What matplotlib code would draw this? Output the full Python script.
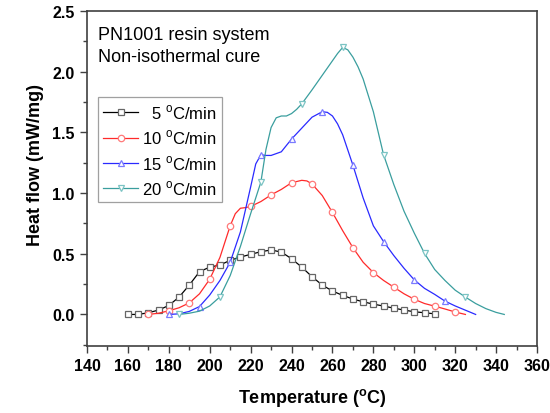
import numpy as np
import matplotlib
matplotlib.use("Agg")
import matplotlib.pyplot as plt
from matplotlib.ticker import MultipleLocator, FormatStrFormatter

plt.rcParams['font.family'] = ['Liberation Sans', 'DejaVu Sans']
plt.rcParams['mathtext.fontset'] = 'custom'
plt.rcParams['mathtext.rm'] = 'Liberation Sans'
plt.rcParams['mathtext.bf'] = 'Liberation Sans:bold'

# ---- data ----
labels = ['  5 $^{\\mathrm{o}}$C/min', '10 $^{\\mathrm{o}}$C/min',
          '15 $^{\\mathrm{o}}$C/min', '20 $^{\\mathrm{o}}$C/min']

t5 = [160, 165, 170, 175, 180, 185, 190, 195, 200, 205, 210, 215, 220, 225, 230,
      235, 240, 245, 250, 255, 260, 265, 270, 275, 280, 285, 290, 295, 300, 305, 310]
v5 = [0.0, 0.0, 0.014, 0.036, 0.074, 0.143, 0.242, 0.352, 0.39, 0.407, 0.446, 0.473,
      0.495, 0.517, 0.531, 0.514, 0.459, 0.39, 0.311, 0.242, 0.193, 0.157, 0.127,
      0.104, 0.085, 0.069, 0.052, 0.036, 0.022, 0.014, 0.005]
m5 = t5

t10 = [170, 175, 180, 185, 190, 195, 200, 205, 210, 212.5, 215, 217.5, 220, 225, 230,
       235, 240, 245, 247.5, 250, 255, 260, 265, 270, 275, 280, 285, 290, 295, 300,
       305, 310, 315, 320, 325]
v10 = [0.0, 0.01, 0.03, 0.055, 0.095, 0.17, 0.29, 0.47, 0.73, 0.83, 0.875, 0.88, 0.89,
       0.93, 0.985, 1.03, 1.085, 1.105, 1.10, 1.075, 0.98, 0.84, 0.69, 0.55, 0.43,
       0.345, 0.28, 0.225, 0.17, 0.125, 0.09, 0.068, 0.045, 0.02, 0.0]
m10 = [170, 180, 190, 200, 210, 220, 230, 240, 250, 260, 270, 280, 290, 300, 310, 320]

t15 = [180, 185, 190, 195, 200, 205, 210, 215, 220, 222.5, 225, 227.5, 230, 235, 240,
       245, 250, 255, 257.5, 260, 262.5, 265, 270, 275, 280, 285, 290, 295, 300, 305,
       310, 315, 320, 325, 330]
v15 = [0.0, 0.005, 0.025, 0.065, 0.16, 0.28, 0.43, 0.68, 1.05, 1.24, 1.315, 1.31,
       1.31, 1.34, 1.445, 1.535, 1.625, 1.67, 1.665, 1.635, 1.57, 1.48, 1.23, 0.96,
       0.73, 0.60, 0.485, 0.38, 0.285, 0.215, 0.165, 0.11, 0.07, 0.035, 0.0]
m15 = [180, 195, 210, 225, 240, 255, 270, 285, 300, 315]

t20 = [185, 190, 195, 200, 205, 210, 215, 220, 225, 227.5, 230, 232.5, 235, 237.5,
       240, 242.5, 245, 250, 255, 260, 262.5, 265, 267.5, 270, 272.5, 275, 280, 285,
       290, 295, 300, 305, 310, 315, 320, 325, 330, 335, 340, 344]
v20 = [0.0, 0.01, 0.027, 0.07, 0.145, 0.32, 0.56, 0.83, 1.09, 1.36, 1.54, 1.62, 1.635,
       1.635, 1.655, 1.69, 1.735, 1.85, 1.97, 2.09, 2.15, 2.20, 2.18, 2.12, 2.04, 1.94,
       1.67, 1.315, 1.07, 0.85, 0.67, 0.503, 0.37, 0.28, 0.20, 0.143, 0.09, 0.048,
       0.017, 0.0]
m20 = [185, 205, 225, 245, 265, 285, 305, 325]

x_ticks = list(range(140, 361, 20))
y_ticks = [0.0, 0.5, 1.0, 1.5, 2.0, 2.5]

series = [
    (t5, v5, m5, 's', '#000000', '#666666', 4.4),
    (t10, v10, m10, 'o', '#ff2a2a', '#ff7a7a', 4.6),
    (t15, v15, m15, '^', '#2a2aff', '#7a7aff', 5.0),
    (t20, v20, m20, 'v', '#3a9e9e', '#7cc4c4', 5.0),
]

fig = plt.figure(figsize=(5.5, 4.14), dpi=100)
ax = fig.add_axes([87 / 550, 1 - 347 / 414, 450 / 550, 335 / 414])

for (t, v, m, mk, lc, mc, ms), lab in zip(series, labels):
    mask = list(np.isin(np.array(t, float), np.array(m, float)))
    ax.plot(t, v, color=lc, lw=0.9, marker=mk, markevery=mask, ms=ms,
            mfc='white', mec=mc, mew=0.9, label=lab)

ax.set_xlim(140, 360)
ax.set_ylim(-0.26, 2.5)
ax.set_xticks(x_ticks)
ax.set_yticks(y_ticks)
ax.xaxis.set_minor_locator(MultipleLocator(10))
ax.yaxis.set_minor_locator(MultipleLocator(0.25))
ax.yaxis.set_major_formatter(FormatStrFormatter('%.1f'))
ax.tick_params(which='major', direction='out', length=5, width=1.0,
               color='#404040', labelsize=11.5, pad=4)
ax.tick_params(which='minor', direction='out', length=3, width=1.0, color='#404040')
for lbl in ax.get_xticklabels() + ax.get_yticklabels():
    lbl.set_fontweight('bold')
for s in ax.spines.values():
    s.set_linewidth(1.2)
    s.set_color('#404040')

ax.set_xlabel('Temperature ($^{\\mathbf{o}}$C)', fontsize=13, fontweight='bold')
ax.set_ylabel('Heat flow (mW/mg)', fontsize=13, fontweight='bold')
ax.xaxis.set_label_coords(0.5, -0.12)
ax.yaxis.set_label_coords(-0.095, 0.543)

ax.text(145.4, 2.306, 'PN1001 resin system', fontsize=13, va='center', ha='left')
ax.text(145.4, 2.125, 'Non-isothermal cure', fontsize=13, va='center', ha='left')

leg = ax.legend(loc='upper left', bbox_to_anchor=(0.025, 0.742), borderaxespad=0,
                fontsize=12, frameon=True, fancybox=False, handlelength=2.1,
                handletextpad=0.25, labelspacing=0.4, borderpad=0.3)
leg.get_frame().set_edgecolor('#888888')
leg.get_frame().set_linewidth(0.9)

fig.savefig('out.png', dpi=100)
